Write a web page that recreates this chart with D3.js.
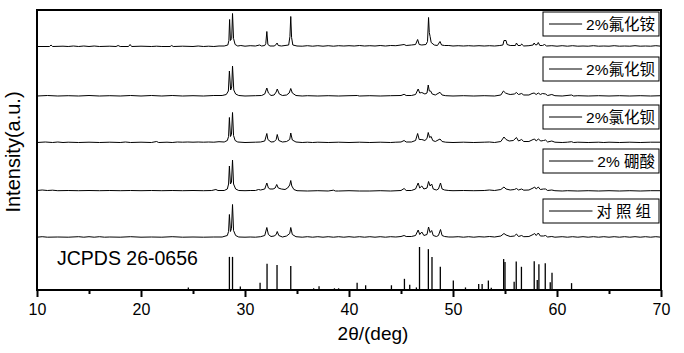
<!DOCTYPE html>
<html><head><meta charset="utf-8">
<script src="https://cdn.jsdelivr.net/npm/d3@7"></script>
<style>
body{margin:0;background:#fff;}
svg{display:block;}
text{font-family:"Liberation Sans",Arial,sans-serif;fill:#000;}
</style></head>
<body><svg id="c" width="684" height="353"></svg>
<script>
// ---------- DATA ----------
const xTicks = [10, 20, 30, 40, 50, 60, 70];
const xMinorTicks = [15, 25, 35, 45, 55, 65];
const seriesNames = ["2%氟化铵", "2%氟化钡", "2%氯化钡", "2% 硼酸", "对照组"];
const refLabel = "JCPDS 26-0656";

const traceNH4F = [[10,0],[11.2,0],[11.35,1.5],[11.5,0],[12.5,0.3],[13,0],[13.5,0.5],[14,0],[14.5,0.5],[15,0],[15.5,0.5],[16,0],[17,0.3],[17.6,0],[17.8,1],[18,0],[18.8,0],[18.95,2],[19.1,0],[20,0.3],[21,0],[21.5,0.3],[22,0],[22.8,0],[22.95,1],[23.1,0],[24,0.3],[25,0],[25.5,0.5],[26,0],[26.5,0.3],[27,0],[27.5,0.5],[28,0.5],[28.35,1.5],[28.45,6],[28.52,27],[28.6,6],[28.72,8],[28.8,33],[28.9,8],[29.05,2],[29.3,0.5],[29.6,1],[30,0.3],[30.5,0.8],[31,0.5],[31.4,1.5],[31.6,0.5],[31.9,1],[32.0,3],[32.1,15],[32.2,2],[32.4,0.5],[32.8,0.5],[33.0,2],[33.08,3.5],[33.2,1],[33.5,0.5],[34.2,1.5],[34.32,10],[34.4,30],[34.48,9],[34.6,1.5],[35,0.5],[35.5,0.3],[36,0.8],[36.5,0.3],[37,0.8],[37.5,0.3],[38,0.8],[38.5,0.3],[39,0.8],[39.5,0.5],[40,0.8],[40.5,0.5],[41,1],[41.5,0.5],[42,0.8],[42.5,0.5],[43,1],[43.5,0.5],[44,1],[44.5,0.8],[45,1.5],[45.3,2],[45.5,1],[46,1.5],[46.4,2],[46.6,7],[46.75,2],[47.0,1.5],[47.4,2],[47.55,5],[47.65,29],[47.72,14],[47.8,10],[47.9,4],[48.2,1.5],[48.5,1],[48.75,5],[48.9,1.5],[49.2,1],[49.6,1],[50,0.5],[50.5,0.8],[51,0.5],[51.5,0.8],[52,0.5],[52.5,0.8],[53,0.5],[53.5,0.8],[54,0.5],[54.5,1],[54.8,1.5],[54.9,6],[55.1,6],[55.2,2],[55.5,1],[56,1],[56.1,3.5],[56.25,1],[56.5,1],[56.6,2.5],[56.8,0.5],[57.3,0.8],[57.7,1.5],[57.8,3.5],[57.95,1.5],[58.1,2],[58.2,4],[58.35,1],[58.6,1],[58.8,2],[59,0.5],[59.5,0.8],[60,0.3],[60.5,0.8],[61,0.3],[61.5,0.8],[62,0.3],[62.5,0.5],[63,0.3],[63.5,0.8],[64,0.3],[64.5,0.5],[65,0.3],[65.5,0.8],[66,0.3],[66.5,0.5],[67,0.3],[67.5,0.8],[68,0.3],[68.5,0.5],[69,0.3],[69.5,0.8],[70,0.3]];

const traceBaF2 = [[10,0],[11,0.5],[12,0],[13,0.3],[14,0],[15,0.5],[16,0],[17,0.3],[18,0],[19,0.5],[20,0],[21,0.5],[22,0],[23,0.5],[24,0],[25,0.3],[26,0],[27,0.5],[27.8,0.5],[28.2,1.5],[28.4,5],[28.5,25],[28.62,6],[28.72,9],[28.8,30],[28.92,6],[29.1,2],[29.4,0.5],[30,0],[31,0.3],[31.6,0.5],[31.9,2],[32.1,8],[32.25,3],[32.5,0.5],[32.8,1],[33.0,4],[33.1,7],[33.3,2],[33.6,0.5],[34.0,1],[34.25,3],[34.4,7.5],[34.55,3],[34.9,0.5],[35.5,0],[36,0.3],[37,0],[38,0.3],[39,0],[40,0.3],[40.8,0.5],[41,0],[42,0.3],[43,0],[44,0.3],[45,0.5],[45.3,1.7],[45.5,0.5],[46,0.5],[46.4,1.5],[46.65,7],[46.8,3],[47.0,3.5],[47.3,2],[47.5,3],[47.62,11],[47.72,5],[47.85,5],[48.0,2],[48.3,1],[48.75,3.7],[48.95,1],[49.3,0.3],[50,0],[51,0.3],[52,0],[53,0.3],[54,0],[54.6,1],[54.85,5],[55.05,3],[55.3,2],[55.5,1.5],[55.9,2],[56.1,3.5],[56.3,1.5],[56.6,2.5],[56.8,1],[57.3,1],[57.6,2.5],[57.8,3],[58.0,1.5],[58.2,3],[58.4,1.5],[58.6,2.5],[58.9,2],[59.1,0.5],[59.5,1.5],[59.8,0.3],[60.5,0],[61.4,1],[61.6,0],[62,0.3],[63,0],[64,0.3],[65,0],[66,0.3],[67,0],[68,0.3],[69,0],[70,0.3]];

const traceBaCl2 = [[10,0],[10.8,0.5],[11.5,0],[12,0.5],[12.5,0],[13,0.3],[14,0],[15,0.3],[16,0],[17,0.3],[18,0],[18.5,0.5],[19,0],[20,0.3],[21,0],[21.5,1],[21.7,0],[22.5,0.3],[23,0],[23.5,0.5],[24,0.3],[24.5,0.5],[25,0.3],[25.5,0.5],[26,0.3],[26.5,0.5],[27,0.3],[27.5,0.8],[28,0.5],[28.3,2],[28.42,6],[28.5,25],[28.6,6],[28.7,8],[28.8,30],[28.9,7],[29.05,2],[29.3,0.5],[30,0],[31,0.3],[31.5,0.5],[31.9,1.5],[32.1,9],[32.2,3],[32.5,0.5],[32.8,0.8],[33.0,3],[33.1,8],[33.25,2],[33.6,0.5],[34.0,1],[34.3,3],[34.4,9.5],[34.55,2.5],[34.9,0.5],[35.5,0],[36,0.3],[36.5,0],[37,0.3],[38,0],[39,0.3],[40,0],[41,0.3],[42,0],[43,0.3],[44,0],[44.5,0.3],[45,0.5],[45.3,2],[45.5,0.5],[46,0.5],[46.4,2],[46.6,9],[46.75,3],[47.0,3],[47.3,2],[47.5,4],[47.62,10],[47.75,5],[47.9,6],[48.05,2],[48.3,1],[48.75,3.5],[48.95,1],[49.3,0.3],[50,0],[51,0.3],[52,0],[53,0.3],[53.5,0.5],[54,0],[54.6,1],[54.9,5.5],[55.1,3],[55.4,1.5],[55.8,2],[56.1,5],[56.3,1.5],[56.6,3],[56.8,1],[57.3,1],[57.7,3],[57.85,3.5],[58.0,1.5],[58.2,3.5],[58.45,1.5],[58.7,2],[58.9,2.5],[59.1,0.5],[59.5,1.5],[59.8,0.3],[60.5,0],[61,0.3],[61.4,0.8],[61.6,0],[62,0.3],[63,0],[64,0.3],[64.5,0],[65,0.3],[66,0],[67,0.3],[68,0],[69,0.3],[70,0.3]];

const traceH3BO3 = [[10,0.5],[10.5,1],[11,0.5],[11.5,0.8],[12,0.3],[13,0.5],[14,0.3],[15,0.5],[16,0.3],[17,0.5],[18,0.3],[19,0.5],[20,0.3],[21,0.5],[22,0.3],[23,0.5],[24,0.3],[25,0.5],[26,0.3],[26.8,0.5],[27.2,1.5],[27.4,0.5],[28,0.5],[28.3,2],[28.42,7],[28.5,25],[28.6,7],[28.7,9],[28.8,31],[28.9,7],[29.1,2],[29.4,0.5],[30,0.3],[30.5,0.5],[31,0.5],[31.3,1.5],[31.5,1],[31.9,2],[32.1,8],[32.25,3],[32.4,2],[32.7,2],[32.9,3],[33.05,6.5],[33.2,3],[33.5,2],[33.85,1.5],[34.1,3],[34.3,6],[34.4,10.5],[34.5,5],[34.7,1.5],[35,0.3],[36,0],[37,0.3],[38,0],[38.5,0.8],[38.7,0],[39,0],[40,0.3],[41,0],[42,0],[43,0.3],[44,0],[45,0.5],[45.3,2.5],[45.5,0.5],[46,0.5],[46.4,2],[46.65,8],[46.8,3],[47.0,5],[47.2,2],[47.5,3],[47.65,9.5],[47.8,5],[47.95,7],[48.1,2],[48.4,1],[48.6,2],[48.8,8],[48.95,2],[49.2,1],[49.6,0.5],[50,0.3],[51,0.5],[52,0.3],[53,0.5],[53.5,1],[54,0.5],[54.6,1.5],[54.9,4],[55.1,2],[55.5,1],[55.9,1.5],[56.1,2.5],[56.3,1],[56.6,2],[56.8,0.8],[57.3,1],[57.7,3],[57.85,4],[58.0,2],[58.2,4],[58.4,1.5],[58.7,2],[58.9,2],[59.1,0.5],[59.5,1],[59.8,0.3],[60.5,0],[61,0.3],[62,0],[63,0.3],[64,0],[65,0.3],[66,0],[67,0.3],[68,0],[69,0.3],[70,0.3]];

const traceControl = [[10,0.3],[10.5,0.8],[11,0.3],[12,0.5],[13,0.3],[14,0.8],[14.5,0.3],[15,0.8],[15.5,0.3],[16,0.8],[16.5,0.3],[17,0.5],[18,0.3],[19,0.8],[20,0.3],[21,0.5],[22,0.3],[23,0.8],[24,0.3],[25,0.5],[26,0.3],[27,0.5],[27.8,0.5],[28.3,2],[28.42,6],[28.5,23],[28.6,6],[28.7,9],[28.8,33],[28.9,7],[29.1,2],[29.4,0.5],[30,0.3],[30.5,0.5],[31,0.3],[31.5,0.8],[31.9,2],[32.1,10],[32.25,3],[32.5,1],[32.8,1.5],[33.0,3],[33.1,6],[33.25,2],[33.6,0.5],[34.0,1.5],[34.3,4],[34.4,10],[34.55,3],[34.9,0.8],[35.5,0.3],[36,0.8],[36.5,0.3],[37,0.8],[37.5,0.3],[38,0.8],[38.5,0.3],[39,0.8],[39.5,0.3],[40,0.8],[40.5,0.3],[41,0.8],[41.5,0.3],[42,0.8],[42.5,0.3],[43,0.8],[43.5,0.3],[44,0.8],[44.5,0.5],[45,1],[45.3,2],[45.5,1],[46,1],[46.4,2],[46.65,7.5],[46.8,3],[47.0,5.5],[47.2,2],[47.5,3],[47.65,10.5],[47.8,5],[47.95,7],[48.1,2],[48.4,1],[48.6,2],[48.8,8],[48.95,2],[49.2,1],[49.6,0.5],[50,0.5],[50.5,0.8],[51,0.3],[51.5,0.8],[52,0.3],[52.5,0.8],[53,0.5],[53.5,1],[54,0.5],[54.6,1.5],[54.9,4],[55.1,2.5],[55.5,1],[55.9,1.5],[56.1,3.5],[56.3,1],[56.6,2],[56.8,0.8],[57.3,1],[57.7,3],[57.85,4],[58.0,2],[58.2,4.5],[58.4,1.5],[58.7,1.5],[58.9,2],[59.1,0.5],[59.5,1],[59.8,0.3],[60.5,0.8],[61,0.3],[61.5,0.8],[62,0.3],[62.5,0.8],[63,0.3],[63.5,0.8],[64,0.3],[64.5,0.8],[65,0.3],[65.5,0.8],[66,0.3],[66.5,0.8],[67,0.3],[67.5,0.8],[68,0.3],[68.5,0.8],[69,0.3],[69.5,0.8],[70,0.3]];

// JCPDS 26-0656 reference lines (2θ, relative intensity %)
const refPositions = [24.55,28.50,28.80,29.55,31.45,32.12,33.08,34.40,36.6,37.12,38.6,39.0,40.78,41.6,44.08,45.33,45.84,46.48,46.78,47.63,47.98,48.78,50.03,51.2,52.47,52.8,53.4,53.68,54.87,55.0,55.88,56.08,56.58,57.81,58.1,58.26,58.87,59.35,59.52,61.4];
const refIntensities = [6,77,77,8,17,61,58,56,4,9,4,4,17,11,11,26,12,6,100,95,77,54,22,6,14,14,22,5,72,65,19,66,54,67,23,60,62,18,40,16];

// ---------- LAYOUT ----------
const traces = [traceNH4F, traceBaF2, traceBaCl2, traceH3BO3, traceControl];
const stackOffsets = [243.5, 194, 147.5, 99, 52.5];   // vertical offset of each pattern (a.u.)
const refScale = 0.43;                               // a.u. per % for reference sticks
const margin = {left: 37, right: 23, top: 10, bottom: 63};
const W = 684, H = 353;
const legendTops = [12, 57, 105, 149, 199];
const legendBox = {x: 543, w: 116, h: 24};

const svg = d3.select("#c");
const x = d3.scaleLinear().domain([10, 70]).range([margin.left, W - margin.right]);
const y = d3.scaleLinear().domain([0, 280]).range([H - margin.bottom, margin.top]);

// reference sticks
svg.append("g").selectAll("line").data(refPositions).join("line")
  .attr("x1", d => x(d)).attr("x2", d => x(d))
  .attr("y1", y(0)).attr("y2", (d, i) => y(refIntensities[i] * refScale))
  .attr("stroke", "#000").attr("stroke-width", 1.3);

// patterns
const line = d3.line().x(d => x(d[0])).y(d => d[1]);
traces.forEach((t, i) => {
  svg.append("path")
    .datum(t.map(p => [p[0], y(p[1] + stackOffsets[i])]))
    .attr("d", line).attr("fill", "none").attr("stroke", "#000").attr("stroke-width", 1);
});

// frame
svg.append("rect").attr("x", x(10)).attr("y", margin.top)
  .attr("width", x(70) - x(10)).attr("height", y(0) - margin.top)
  .attr("fill", "none").attr("stroke", "#000").attr("stroke-width", 2);

// x axis
const gx = svg.append("g").attr("transform", `translate(0,${y(0)})`);
gx.call(d3.axisBottom(x).tickValues(xTicks).tickSize(7).tickPadding(7).tickFormat(d3.format("d")))
  .call(g => g.select(".domain").remove());
gx.selectAll(".tick line").attr("stroke-width", 2);
gx.selectAll(".tick text").style("font-size", "16px").style("font-family", "'Liberation Sans',Arial,sans-serif");
const gm = svg.append("g").attr("transform", `translate(0,${y(0)})`);
gm.call(d3.axisBottom(x).tickValues(xMinorTicks).tickSize(4).tickFormat(""))
  .call(g => g.select(".domain").remove());
gm.selectAll(".tick line").attr("stroke-width", 2);

// axis titles
svg.append("text").attr("x", 373).attr("y", 340).attr("text-anchor", "middle")
  .style("font-size", "19px").text("2θ/(deg)");
svg.append("text").attr("transform", "translate(20,152) rotate(-90)").attr("text-anchor", "middle")
  .style("font-size", "20px").text("Intensity(a.u.)");

// reference label
svg.append("text").attr("x", 57).attr("y", 265).style("font-size", "19.5px").text(refLabel);

// legends
seriesNames.forEach((name, i) => {
  const g = svg.append("g");
  const top = legendTops[i];
  g.append("rect").attr("x", legendBox.x).attr("y", top).attr("width", legendBox.w).attr("height", legendBox.h)
    .attr("fill", "#fff").attr("stroke", "#000").attr("stroke-width", 1);
  const t = g.append("text").attr("x", legendBox.x + legendBox.w - 4).attr("y", top + 18)
    .attr("text-anchor", "end")
    .style("font-family", "'Liberation Sans','Noto Sans CJK SC',sans-serif")
    .style("font-size", "15.5px")
    .style("letter-spacing", i === 4 ? "4px" : "0px")
    .text(name);
  const tw = t.node().getComputedTextLength();
  const tx = legendBox.x + legendBox.w - 4 - tw;
  g.append("line").attr("x1", legendBox.x + 6).attr("x2", tx - 4)
    .attr("y1", top + legendBox.h / 2).attr("y2", top + legendBox.h / 2)
    .attr("stroke", "#000").attr("stroke-width", 1);
});
</script></body></html>
